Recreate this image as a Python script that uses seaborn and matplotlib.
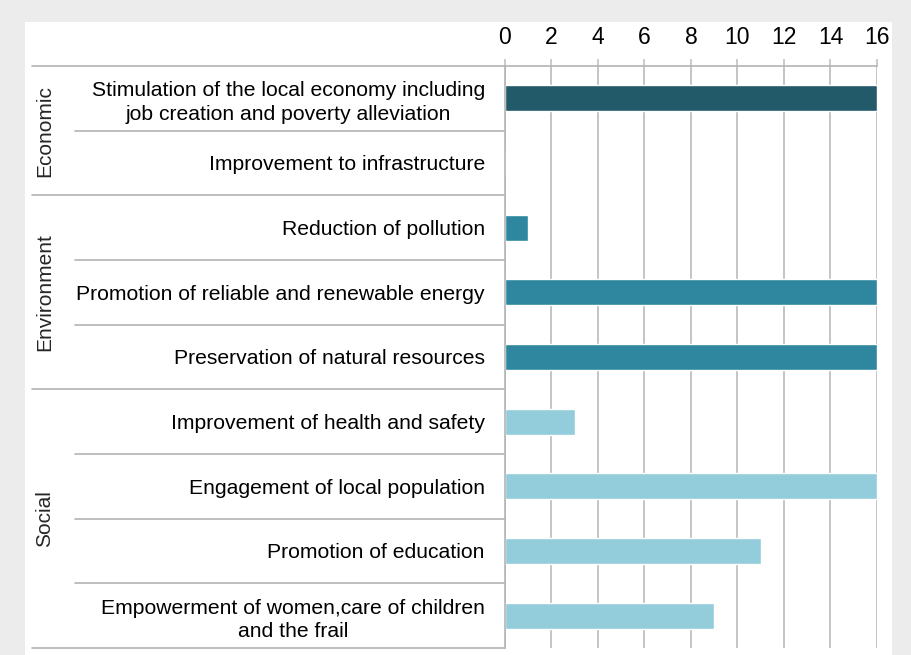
import pandas as pd
import matplotlib
matplotlib.use("Agg")
import matplotlib.pyplot as plt
import matplotlib.patches as mpatches
import seaborn as sns

# Chart data
groups = ["Economic", "Economic",
          "Environment", "Environment", "Environment",
          "Social", "Social", "Social", "Social"]
items = ["Stimulation of the local economy including\njob creation and poverty alleviation",
         "Improvement to infrastructure",
         "Reduction of pollution",
         "Promotion of reliable and renewable energy",
         "Preservation of natural resources",
         "Improvement of health and safety",
         "Engagement of local population",
         "Promotion of education",
         "Empowerment of women,care of children\nand the frail"]
values = [16, 0, 1, 16, 16, 3, 16, 11, 9]
group_colors = {"Economic": "#225a69", "Environment": "#2e879e", "Social": "#93cddc"}

df = pd.DataFrame({"group": groups, "item": items, "value": values})

sns.set_style("white")
plt.rcParams["font.family"] = ["Liberation Sans", "DejaVu Sans"]

fig = plt.figure(figsize=(9.12, 6.55), dpi=100)
fig.patch.set_facecolor("#ececec")
W, H = 912, 655
# white panel
fig.add_artist(mpatches.Rectangle((25 / W, 0), (892 - 25) / W, 1 - 22 / H,
                                  transform=fig.transFigure, facecolor="white",
                                  edgecolor="none", zorder=0))

ax = fig.add_axes([505 / W, 1 - 648 / H, (877 - 505) / W, (648 - 66) / H])
ax.set_facecolor("none")

sns.barplot(data=df, x="value", y="item", hue="group", palette=group_colors,
            dodge=False, width=0.4, orient="h", legend=False, ax=ax,
            saturation=1)

ax.set_xlim(0, 16)
ax.set_ylim(len(items) - 0.5, -0.5)
ax.set_xticks(range(0, 17, 2))
ax.xaxis.tick_top()
ax.xaxis.set_label_position("top")
ax.set_xlabel("")
ax.set_ylabel("")
ax.grid(axis="x", color="#c4c4c4", linewidth=1.4)
ax.set_axisbelow(True)
ax.tick_params(axis="x", top=True, length=5, width=1.2, color="#c4c4c4",
               labelsize=16.5, pad=7, labelcolor="black")
ax.tick_params(axis="y", left=False, labelsize=15.2, pad=11, labelcolor="black")
for t in ax.get_yticklabels():
    t.set_multialignment("center")
    t.set_linespacing(1.32)

for side in ["right", "bottom"]:
    ax.spines[side].set_visible(False)
for side in ["left", "top"]:
    ax.spines[side].set_color("#b4b4b4")
    ax.spines[side].set_linewidth(1.2)

# row separators in the label column
to_ax = lambda px: (px - 505) / (877 - 505)
x_group = to_ax(32)
x_item = to_ax(75)
ax.plot([x_group, 0], [-0.5, -0.5], transform=ax.get_yaxis_transform(),
        color="#b4b4b4", lw=1.2, clip_on=False)
for i in range(len(items)):
    y = i + 0.5
    last_in_group = i == len(items) - 1 or groups[i + 1] != groups[i]
    x0 = x_group if last_in_group else x_item
    ax.plot([x0, 0], [y, y], transform=ax.get_yaxis_transform(),
            color="#b4b4b4", lw=1.2, clip_on=False)

# group labels
x_lab = to_ax(45)
for g in dict.fromkeys(groups):
    idx = [i for i, gg in enumerate(groups) if gg == g]
    ymid = (idx[0] + idx[-1]) / 2
    ax.text(x_lab, ymid, g, rotation=90, ha="center", va="center",
            fontsize=15, transform=ax.get_yaxis_transform(), clip_on=False)

fig.savefig("out.png", dpi=100, facecolor=fig.get_facecolor())
